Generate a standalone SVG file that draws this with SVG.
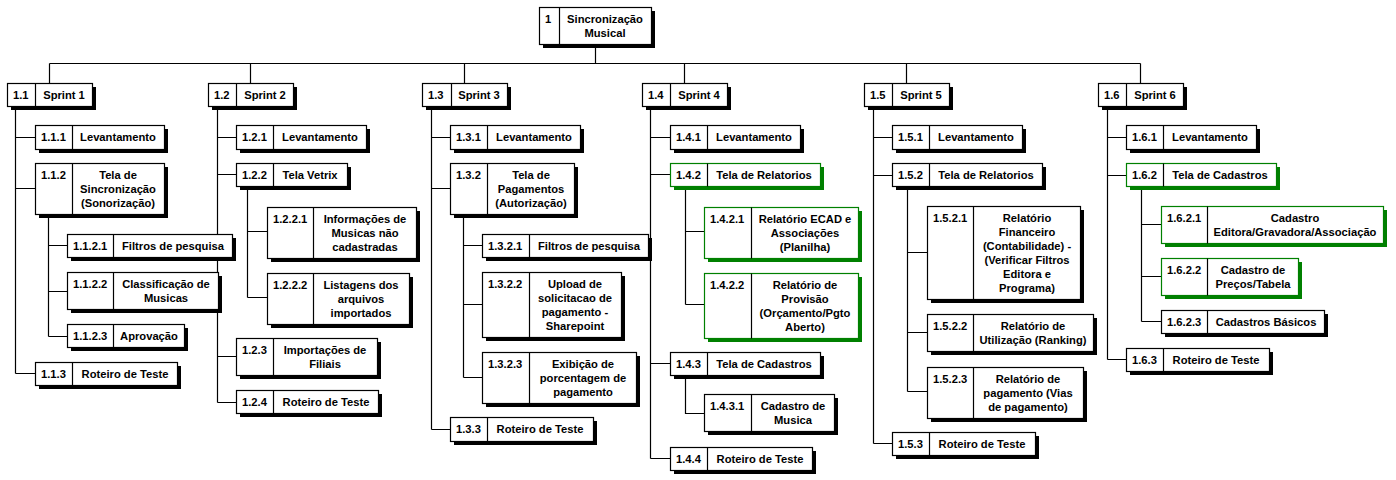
<svg xmlns="http://www.w3.org/2000/svg" width="1396" height="480" viewBox="0 0 1396 480">
<style>
.bg{fill:#fff}
.sh{fill:#000}
.shg{fill:#008000}
.bx{fill:#fff;stroke:#000;stroke-width:1.2}
.bxg{fill:#fff;stroke:#008000;stroke-width:1.2}
.dv{stroke:#000;stroke-width:1.2}
.cn{stroke:#000;stroke-width:1.2;fill:none}
text{font-family:"Liberation Sans",Arial,sans-serif;font-size:11.2px;font-weight:bold;fill:#000}
.c{text-anchor:middle}
</style>
<rect class="bg" x="0" y="0" width="1396" height="480"/>
<g id="connectors">
<path class="cn" d="M595.5,44V63.5M49.5,63.5H1140.5M49.5,63.5V83M250.5,63.5V83M464.5,63.5V83M684.5,63.5V83M906.5,63.5V83M1140.5,63.5V83"/>
<path class="cn" d="M15.5,106V373.5M15.5,137.5H35M15.5,188.5H35M15.5,373.5H35M48.5,214V336.5M48.5,245.5H67M48.5,291.5H67M48.5,336.5H67"/>
<path class="cn" d="M217.5,106V402.5M217.5,137.5H236M217.5,174.5H236M217.5,356.5H236M217.5,402.5H236M247.5,186V297.5M247.5,231.5H267M247.5,297.5H267"/>
<path class="cn" d="M431.5,106V429.5M431.5,137.5H450M431.5,188.5H450M431.5,429.5H450M463.5,214V377.5M463.5,245.5H482M463.5,304.5H482M463.5,377.5H482"/>
<path class="cn" d="M650.5,106V458.5M650.5,137.5H670M650.5,174.5H670M650.5,363.5H670M650.5,458.5H670M685.5,186V304.5M685.5,231.5H704M685.5,304.5H704M685.5,375V413.5H704"/>
<path class="cn" d="M873.5,106V443.5M873.5,137.5H892M873.5,175.5H892M873.5,443.5H892M907.5,186V391.5M907.5,252.5H927M907.5,332.5H927M907.5,391.5H927"/>
<path class="cn" d="M1107.5,106V359.5M1107.5,137.5H1126M1107.5,175.5H1126M1107.5,359.5H1126M1141.5,186V321.5M1141.5,224.5H1161M1141.5,276.5H1161M1141.5,321.5H1161"/>
</g>
<g id="n1"><rect class="sh" x="543" y="11" width="112" height="37"/><rect class="bx" x="539.5" y="7.5" width="112" height="37"/><path class="dv" d="M559.5,7.5V44.5"/><text x="545" y="23">1</text><text class="c" x="605" y="23">Sincronização</text><text class="c" x="605" y="37">Musical</text></g>

<g id="n1_1"><rect class="sh" x="11" y="87" width="85" height="23"/><rect class="bx" x="7.5" y="83.5" width="85" height="23"/><path class="dv" d="M35.5,83.5V106.5"/><text x="13" y="99">1.1</text><text class="c" x="64" y="99">Sprint 1</text></g>
<g id="n1_1_1"><rect class="sh" x="39" y="129" width="129" height="24"/><rect class="bx" x="35.5" y="125.5" width="129" height="24"/><path class="dv" d="M72.5,125.5V149.5"/><text x="41" y="141">1.1.1</text><text class="c" x="118" y="141">Levantamento</text></g>
<g id="n1_1_2"><rect class="sh" x="39" y="167" width="129" height="51"/><rect class="bx" x="35.5" y="163.5" width="129" height="51"/><path class="dv" d="M72.5,163.5V214.5"/><text x="41" y="179">1.1.2</text><text class="c" x="118" y="179">Tela de</text><text class="c" x="118" y="193">Sincronização</text><text class="c" x="118" y="207">(Sonorização)</text></g>
<g id="n1_1_2_1"><rect class="sh" x="71" y="238" width="165" height="23"/><rect class="bx" x="67.5" y="234.5" width="165" height="23"/><path class="dv" d="M113.5,234.5V257.5"/><text x="73" y="250">1.1.2.1</text><text class="c" x="173" y="250">Filtros de pesquisa</text></g>
<g id="n1_1_2_2"><rect class="sh" x="71" y="276" width="151" height="37"/><rect class="bx" x="67.5" y="272.5" width="151" height="37"/><path class="dv" d="M113.5,272.5V309.5"/><text x="73" y="288">1.1.2.2</text><text class="c" x="166" y="288">Classificação de</text><text class="c" x="166" y="302">Musicas</text></g>
<g id="n1_1_2_3"><rect class="sh" x="71" y="328" width="117" height="23"/><rect class="bx" x="67.5" y="324.5" width="117" height="23"/><path class="dv" d="M113.5,324.5V347.5"/><text x="73" y="340">1.1.2.3</text><text class="c" x="149" y="340">Aprovação</text></g>
<g id="n1_1_3"><rect class="sh" x="39" y="366" width="142" height="23"/><rect class="bx" x="35.5" y="362.5" width="142" height="23"/><path class="dv" d="M72.5,362.5V385.5"/><text x="41" y="378">1.1.3</text><text class="c" x="125" y="378">Roteiro de Teste</text></g>

<g id="n1_2"><rect class="sh" x="212" y="87" width="85" height="23"/><rect class="bx" x="208.5" y="83.5" width="85" height="23"/><path class="dv" d="M236.5,83.5V106.5"/><text x="214" y="99">1.2</text><text class="c" x="265" y="99">Sprint 2</text></g>
<g id="n1_2_1"><rect class="sh" x="240" y="129" width="130" height="24"/><rect class="bx" x="236.5" y="125.5" width="130" height="24"/><path class="dv" d="M273.5,125.5V149.5"/><text x="242" y="141">1.2.1</text><text class="c" x="320" y="141">Levantamento</text></g>
<g id="n1_2_2"><rect class="sh" x="240" y="167" width="111" height="23"/><rect class="bx" x="236.5" y="163.5" width="111" height="23"/><path class="dv" d="M273.5,163.5V186.5"/><text x="242" y="179">1.2.2</text><text class="c" x="310" y="179">Tela Vetrix</text></g>
<g id="n1_2_2_1"><rect class="sh" x="271" y="211" width="149" height="51"/><rect class="bx" x="267.5" y="207.5" width="149" height="51"/><path class="dv" d="M313.5,207.5V258.5"/><text x="273" y="223">1.2.2.1</text><text class="c" x="365" y="223">Informações de</text><text class="c" x="365" y="237">Musicas não</text><text class="c" x="365" y="251">cadastradas</text></g>
<g id="n1_2_2_2"><rect class="sh" x="271" y="277" width="142" height="51"/><rect class="bx" x="267.5" y="273.5" width="142" height="51"/><path class="dv" d="M313.5,273.5V324.5"/><text x="273" y="289">1.2.2.2</text><text class="c" x="361" y="289">Listagens dos</text><text class="c" x="361" y="303">arquivos</text><text class="c" x="361" y="317">importados</text></g>
<g id="n1_2_3"><rect class="sh" x="240" y="342" width="141" height="37"/><rect class="bx" x="236.5" y="338.5" width="141" height="37"/><path class="dv" d="M273.5,338.5V375.5"/><text x="242" y="354">1.2.3</text><text class="c" x="325" y="354">Importações de</text><text class="c" x="325" y="368">Filiais</text></g>
<g id="n1_2_4"><rect class="sh" x="240" y="394" width="142" height="23"/><rect class="bx" x="236.5" y="390.5" width="142" height="23"/><path class="dv" d="M273.5,390.5V413.5"/><text x="242" y="406">1.2.4</text><text class="c" x="326" y="406">Roteiro de Teste</text></g>

<g id="n1_3"><rect class="sh" x="426" y="87" width="85" height="23"/><rect class="bx" x="422.5" y="83.5" width="85" height="23"/><path class="dv" d="M451.5,83.5V106.5"/><text x="428" y="99">1.3</text><text class="c" x="479" y="99">Sprint 3</text></g>
<g id="n1_3_1"><rect class="sh" x="454" y="129" width="130" height="24"/><rect class="bx" x="450.5" y="125.5" width="130" height="24"/><path class="dv" d="M487.5,125.5V149.5"/><text x="456" y="141">1.3.1</text><text class="c" x="534" y="141">Levantamento</text></g>
<g id="n1_3_2"><rect class="sh" x="454" y="167" width="124" height="51"/><rect class="bx" x="450.5" y="163.5" width="124" height="51"/><path class="dv" d="M487.5,163.5V214.5"/><text x="456" y="179">1.3.2</text><text class="c" x="531" y="179">Tela de</text><text class="c" x="531" y="193">Pagamentos</text><text class="c" x="531" y="207">(Autorização)</text></g>
<g id="n1_3_2_1"><rect class="sh" x="486" y="238" width="166" height="23"/><rect class="bx" x="482.5" y="234.5" width="166" height="23"/><path class="dv" d="M529.5,234.5V257.5"/><text x="488" y="250">1.3.2.1</text><text class="c" x="589" y="250">Filtros de pesquisa</text></g>
<g id="n1_3_2_2"><rect class="sh" x="486" y="276" width="139" height="65"/><rect class="bx" x="482.5" y="272.5" width="139" height="65"/><path class="dv" d="M529.5,272.5V337.5"/><text x="488" y="288">1.3.2.2</text><text class="c" x="575" y="288">Upload de</text><text class="c" x="575" y="302">solicitacao de</text><text class="c" x="575" y="316">pagamento -</text><text class="c" x="575" y="330">Sharepoint</text></g>
<g id="n1_3_2_3"><rect class="sh" x="486" y="356" width="154" height="51"/><rect class="bx" x="482.5" y="352.5" width="154" height="51"/><path class="dv" d="M529.5,352.5V403.5"/><text x="488" y="368">1.3.2.3</text><text class="c" x="583" y="368">Exibição de</text><text class="c" x="583" y="382">porcentagem de</text><text class="c" x="583" y="396">pagamento</text></g>
<g id="n1_3_3"><rect class="sh" x="454" y="421" width="143" height="24"/><rect class="bx" x="450.5" y="417.5" width="143" height="24"/><path class="dv" d="M487.5,417.5V441.5"/><text x="456" y="433">1.3.3</text><text class="c" x="540" y="433">Roteiro de Teste</text></g>

<g id="n1_4"><rect class="sh" x="646" y="87" width="85" height="23"/><rect class="bx" x="642.5" y="83.5" width="85" height="23"/><path class="dv" d="M670.5,83.5V106.5"/><text x="648" y="99">1.4</text><text class="c" x="699" y="99">Sprint 4</text></g>
<g id="n1_4_1"><rect class="sh" x="674" y="129" width="130" height="24"/><rect class="bx" x="670.5" y="125.5" width="130" height="24"/><path class="dv" d="M707.5,125.5V149.5"/><text x="676" y="141">1.4.1</text><text class="c" x="754" y="141">Levantamento</text></g>
<g id="n1_4_2"><rect class="shg" x="674" y="167" width="150" height="23"/><rect class="bxg" x="670.5" y="163.5" width="150" height="23"/><path class="dv" d="M707.5,163.5V186.5"/><text x="676" y="179">1.4.2</text><text class="c" x="764" y="179">Tela de Relatorios</text></g>
<g id="n1_4_2_1"><rect class="shg" x="708" y="211" width="154" height="51"/><rect class="bxg" x="704.5" y="207.5" width="154" height="51"/><path class="dv" d="M751.5,207.5V258.5"/><text x="710" y="223">1.4.2.1</text><text class="c" x="805" y="223">Relatório ECAD e</text><text class="c" x="805" y="237">Associações</text><text class="c" x="805" y="251">(Planilha)</text></g>
<g id="n1_4_2_2"><rect class="shg" x="708" y="277" width="154" height="65"/><rect class="bxg" x="704.5" y="273.5" width="154" height="65"/><path class="dv" d="M751.5,273.5V338.5"/><text x="710" y="289">1.4.2.2</text><text class="c" x="805" y="289">Relatório de</text><text class="c" x="805" y="303">Provisão</text><text class="c" x="805" y="317">(Orçamento/Pgto</text><text class="c" x="805" y="331">Aberto)</text></g>
<g id="n1_4_3"><rect class="sh" x="674" y="356" width="150" height="23"/><rect class="bx" x="670.5" y="352.5" width="150" height="23"/><path class="dv" d="M707.5,352.5V375.5"/><text x="676" y="368">1.4.3</text><text class="c" x="764" y="368">Tela de Cadastros</text></g>
<g id="n1_4_3_1"><rect class="sh" x="708" y="398" width="130" height="37"/><rect class="bx" x="704.5" y="394.5" width="130" height="37"/><path class="dv" d="M751.5,394.5V431.5"/><text x="710" y="410">1.4.3.1</text><text class="c" x="793" y="410">Cadastro de</text><text class="c" x="793" y="424">Musica</text></g>
<g id="n1_4_4"><rect class="sh" x="674" y="451" width="142" height="23"/><rect class="bx" x="670.5" y="447.5" width="142" height="23"/><path class="dv" d="M707.5,447.5V470.5"/><text x="676" y="463">1.4.4</text><text class="c" x="760" y="463">Roteiro de Teste</text></g>

<g id="n1_5"><rect class="sh" x="868" y="87" width="85" height="23"/><rect class="bx" x="864.5" y="83.5" width="85" height="23"/><path class="dv" d="M892.5,83.5V106.5"/><text x="870" y="99">1.5</text><text class="c" x="921" y="99">Sprint 5</text></g>
<g id="n1_5_1"><rect class="sh" x="896" y="129" width="130" height="24"/><rect class="bx" x="892.5" y="125.5" width="130" height="24"/><path class="dv" d="M929.5,125.5V149.5"/><text x="898" y="141">1.5.1</text><text class="c" x="976" y="141">Levantamento</text></g>
<g id="n1_5_2"><rect class="sh" x="896" y="167" width="150" height="23"/><rect class="bx" x="892.5" y="163.5" width="150" height="23"/><path class="dv" d="M929.5,163.5V186.5"/><text x="898" y="179">1.5.2</text><text class="c" x="986" y="179">Tela de Relatorios</text></g>
<g id="n1_5_2_1"><rect class="sh" x="931" y="210" width="153" height="93"/><rect class="bx" x="927.5" y="206.5" width="153" height="93"/><path class="dv" d="M973.5,206.5V299.5"/><text x="933" y="222">1.5.2.1</text><text class="c" x="1027" y="222">Relatório</text><text class="c" x="1027" y="236">Financeiro</text><text class="c" x="1027" y="250">(Contabilidade) -</text><text class="c" x="1027" y="264">(Verificar Filtros</text><text class="c" x="1027" y="278">Editora e</text><text class="c" x="1027" y="292">Programa)</text></g>
<g id="n1_5_2_2"><rect class="sh" x="931" y="318" width="166" height="37"/><rect class="bx" x="927.5" y="314.5" width="166" height="37"/><path class="dv" d="M973.5,314.5V351.5"/><text x="933" y="330">1.5.2.2</text><text class="c" x="1033" y="330">Relatório de</text><text class="c" x="1033" y="344">Utilização (Ranking)</text></g>
<g id="n1_5_2_3"><rect class="sh" x="931" y="371" width="156" height="51"/><rect class="bx" x="927.5" y="367.5" width="156" height="51"/><path class="dv" d="M973.5,367.5V418.5"/><text x="933" y="383">1.5.2.3</text><text class="c" x="1028" y="383">Relatório de</text><text class="c" x="1028" y="397">pagamento (Vias</text><text class="c" x="1028" y="411">de pagamento)</text></g>
<g id="n1_5_3"><rect class="sh" x="896" y="436" width="143" height="23"/><rect class="bx" x="892.5" y="432.5" width="143" height="23"/><path class="dv" d="M929.5,432.5V455.5"/><text x="898" y="448">1.5.3</text><text class="c" x="982" y="448">Roteiro de Teste</text></g>

<g id="n1_6"><rect class="sh" x="1102" y="87" width="85" height="23"/><rect class="bx" x="1098.5" y="83.5" width="85" height="23"/><path class="dv" d="M1126.5,83.5V106.5"/><text x="1104" y="99">1.6</text><text class="c" x="1155" y="99">Sprint 6</text></g>
<g id="n1_6_1"><rect class="sh" x="1130" y="129" width="130" height="24"/><rect class="bx" x="1126.5" y="125.5" width="130" height="24"/><path class="dv" d="M1163.5,125.5V149.5"/><text x="1132" y="141">1.6.1</text><text class="c" x="1210" y="141">Levantamento</text></g>
<g id="n1_6_2"><rect class="shg" x="1130" y="167" width="150" height="23"/><rect class="bxg" x="1126.5" y="163.5" width="150" height="23"/><path class="dv" d="M1163.5,163.5V186.5"/><text x="1132" y="179">1.6.2</text><text class="c" x="1220" y="179">Tela de Cadastros</text></g>
<g id="n1_6_2_1"><rect class="shg" x="1165" y="210" width="222" height="37"/><rect class="bxg" x="1161.5" y="206.5" width="222" height="37"/><path class="dv" d="M1207.5,206.5V243.5"/><text x="1167" y="222">1.6.2.1</text><text class="c" x="1295" y="222">Cadastro</text><text class="c" x="1295" y="236">Editora/Gravadora/Associação</text></g>
<g id="n1_6_2_2"><rect class="shg" x="1165" y="262" width="137" height="37"/><rect class="bxg" x="1161.5" y="258.5" width="137" height="37"/><path class="dv" d="M1207.5,258.5V295.5"/><text x="1167" y="274">1.6.2.2</text><text class="c" x="1253" y="274">Cadastro de</text><text class="c" x="1253" y="288">Preços/Tabela</text></g>
<g id="n1_6_2_3"><rect class="sh" x="1165" y="314" width="163" height="23"/><rect class="bx" x="1161.5" y="310.5" width="163" height="23"/><path class="dv" d="M1207.5,310.5V333.5"/><text x="1167" y="326">1.6.2.3</text><text class="c" x="1266" y="326">Cadastros Básicos</text></g>
<g id="n1_6_3"><rect class="sh" x="1130" y="352" width="143" height="23"/><rect class="bx" x="1126.5" y="348.5" width="143" height="23"/><path class="dv" d="M1163.5,348.5V371.5"/><text x="1132" y="364">1.6.3</text><text class="c" x="1216" y="364">Roteiro de Teste</text></g>
</svg>
